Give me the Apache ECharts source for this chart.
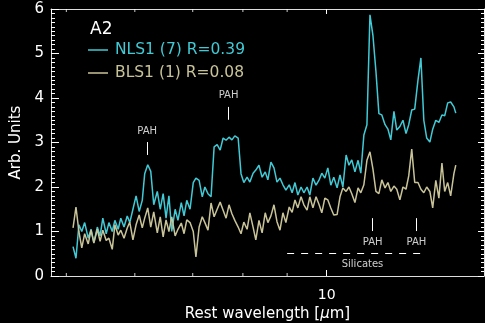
<!DOCTYPE html>
<html><head><meta charset="utf-8">
<script src="https://cdn.jsdelivr.net/npm/echarts@6/dist/echarts.min.js"></script>
<style>html,body{margin:0;padding:0;background:#000;}#c{width:485px;height:323px;}</style>
</head><body><div id="c"></div>
<script>
// Rest wavelength (micron)
const wavelength = [5.09,5.13,5.17,5.21,5.25,5.30,5.34,5.38,5.43,5.47,
5.51,5.56,5.60,5.65,5.69,5.74,5.78,5.83,5.88,5.92,
5.97,6.02,6.07,6.12,6.16,6.21,6.26,6.31,6.37,6.42,
6.47,6.52,6.57,6.62,6.68,6.73,6.79,6.84,6.89,6.95,
7.01,7.06,7.12,7.18,7.23,7.29,7.35,7.41,7.47,7.53,
7.59,7.65,7.71,7.77,7.83,7.90,7.96,8.02,8.09,8.15,
8.22,8.28,8.35,8.42,8.49,8.55,8.62,8.69,8.76,8.83,
8.90,8.97,9.05,9.12,9.19,9.26,9.34,9.41,9.49,9.56,
9.64,9.72,9.80,9.87,9.95,10.03,10.11,10.19,10.28,10.36,
10.44,10.53,10.61,10.69,10.78,10.87,10.95,11.04,11.13,11.22,
11.31,11.40,11.49,11.58,11.68,11.77,11.86,11.96,12.05,12.15,
12.25,12.35,12.44,12.54,12.64,12.75,12.85,12.95,13.05,13.16,
13.26,13.37,13.48,13.59,13.69,13.80,13.91,14.03,14.10];
// NLS1 (7) spectrum
const nls1 = [0.66,0.40,1.15,1.00,1.20,0.85,1.05,0.75,1.10,0.90,
1.30,0.95,1.20,1.00,1.25,1.05,1.30,1.10,1.35,1.20,
1.50,1.80,1.45,1.70,2.30,2.50,2.35,1.60,1.90,1.50,
1.85,1.30,1.80,1.00,1.50,1.25,1.65,1.35,1.70,1.50,
2.10,2.20,2.15,1.78,2.00,1.85,1.78,2.90,2.95,2.83,
3.10,3.05,3.12,3.06,3.15,3.10,2.30,2.10,2.22,2.11,
2.31,2.38,2.49,2.22,2.34,2.16,2.56,2.43,2.11,2.20,
2.05,1.93,2.05,1.87,2.10,1.82,2.00,1.87,2.00,1.82,
2.20,2.04,2.16,2.31,2.20,2.43,2.04,2.22,1.98,2.27,
2.00,2.72,2.49,2.61,2.34,2.60,2.31,3.17,3.40,5.87,
5.40,4.60,3.65,3.62,3.40,3.30,3.06,3.70,3.28,3.36,
3.50,3.20,3.40,3.73,3.75,4.40,4.90,3.50,3.10,3.01,
3.30,3.50,3.45,3.62,3.60,3.89,3.91,3.80,3.66];
// BLS1 (1) spectrum
const bls1 = [1.08,1.55,1.00,0.63,0.95,0.72,1.03,0.74,1.05,0.78,
1.03,0.80,0.85,0.60,1.15,0.92,1.03,0.85,1.08,1.21,
0.81,1.15,1.37,1.08,1.30,1.53,1.10,1.44,0.97,1.33,
0.88,1.26,1.00,1.33,0.90,1.05,1.19,0.95,1.26,1.20,
1.00,0.43,1.10,1.33,1.20,1.03,1.64,1.33,1.50,1.66,
1.48,1.30,1.60,1.40,1.25,1.10,0.95,1.21,1.05,1.42,
1.10,0.81,1.25,0.97,1.42,1.20,1.35,1.60,1.22,1.03,
1.42,1.20,1.55,1.43,1.71,1.53,1.78,1.60,1.48,1.78,
1.53,1.78,1.60,1.42,1.75,1.71,1.53,1.37,1.38,1.78,
1.98,1.90,2.00,1.85,1.65,1.98,1.87,2.05,2.60,2.79,
2.40,1.90,1.85,2.16,1.98,2.10,1.90,2.02,1.95,1.71,
2.00,1.95,2.25,2.85,2.10,2.10,1.95,1.87,2.00,1.90,
1.53,2.15,1.75,2.54,1.90,2.10,1.80,2.30,2.49];

const seriesNames = ['NLS1 (7) R=0.39', 'BLS1 (1) R=0.08'];
const xMin = 4.8, xMax = 15.2;
const yMin = 0, yMax = 6;
const xMinorTicks = [5, 6, 7, 8, 9];
// PAH markers: wavelength, bar bottom, bar top, label y
const pahWave = [6.2, 7.7, 11.3, 12.7];
const pahBarLow = [2.72, 3.51, 1.01, 1.01];
const pahBarHigh = [3.01, 3.80, 1.30, 1.30];
const pahLabelY = [3.26, 4.05, 0.76, 0.76];
// Silicates feature range
const silicRange = [9.0, 13.0];
const silicLineY = 0.51;
const silicLabel = [11.0, 0.25];

const CYAN = '#41cad5', KHAKI = '#c8c398', FONT = 'DejaVu Sans';
const zip = (a, b) => a.map((v, i) => [v, b[i]]);

const markLines = pahWave.map((w, i) => [
  {coord: [w, pahBarLow[i]]}, {coord: [w, pahBarHigh[i]]}
]);
markLines.push([{coord: [silicRange[0], silicLineY], lineStyle: {type: [7, 7]}},
                {coord: [silicRange[1], silicLineY]}]);

const labelData = pahWave.map((w, i) => [w, pahLabelY[i], 'PAH']);
labelData.push([silicLabel[0], silicLabel[1], 'Silicates']);

const tickData = xMinorTicks.map(v => [v, yMin]);
const tickTopData = xMinorTicks.map(v => [v, yMax]);

const chart = echarts.init(document.getElementById('c'), null, {renderer: 'canvas'});
chart.setOption({
  backgroundColor: '#000',
  animation: false,
  textStyle: {fontFamily: FONT},
  title: {text: 'A2', left: 85, top: 16, textStyle: {color: '#fff', fontSize: 17, fontWeight: 'normal', fontFamily: FONT}},
  legend: {
    orient: 'vertical', left: 83, top: 37, itemGap: 7,
    itemWidth: 20, itemHeight: 1.5, icon: 'rect',
    data: [
      {name: seriesNames[0], textStyle: {color: CYAN}},
      {name: seriesNames[1], textStyle: {color: KHAKI}}
    ],
    textStyle: {fontSize: 15.5, fontFamily: FONT, padding: [0, 0, 0, 2]}
  },
  grid: {left: 51, top: 9, right: 1, bottom: 47, containLabel: false, outerBoundsMode: 'none'},
  xAxis: [{
    type: 'log', logBase: 10, min: xMin, max: xMax, position: 'bottom',
    name: 'Rest wavelength [{i|μ}m]', nameLocation: 'middle', nameGap: 31,
    nameTextStyle: {color: '#fff', fontSize: 15, fontFamily: FONT, rich: {i: {fontStyle: 'italic', fontSize: 15, color: '#fff', fontFamily: FONT}}},
    axisLine: {onZero: false, lineStyle: {color: '#ddd', width: 1}},
    axisTick: {inside: true, length: 6, lineStyle: {color: '#fff'}},
    axisLabel: {color: '#fff', fontSize: 14, margin: 12, showMinLabel: false, showMaxLabel: false},
    splitLine: {show: false}
  }, {
    type: 'log', logBase: 10, min: xMin, max: xMax, position: 'top',
    axisLine: {onZero: false, lineStyle: {color: '#ddd', width: 1}},
    axisTick: {inside: true, length: 5, lineStyle: {color: '#fff'}},
    axisLabel: {show: false}, splitLine: {show: false}
  }],
  yAxis: [{
    type: 'value', min: yMin, max: yMax, interval: 1, position: 'left',
    name: 'Arb. Units', nameLocation: 'middle', nameGap: 22,
    nameTextStyle: {color: '#fff', fontSize: 15, fontFamily: FONT},
    axisLine: {show: true, onZero: false, lineStyle: {color: '#ddd', width: 1}},
    axisTick: {show: true, inside: true, length: 8, lineStyle: {color: '#fff'}},
    minorTick: {show: true, splitNumber: 10, length: 4, lineStyle: {color: '#fff', width: 1}},
    axisLabel: {color: '#fff', fontSize: 15, margin: 7},
    splitLine: {show: false}
  }, {
    type: 'value', min: yMin, max: yMax, interval: 1, position: 'right',
    axisLine: {show: true, onZero: false, lineStyle: {color: '#ddd', width: 1}},
    axisTick: {show: true, inside: true, length: 6, lineStyle: {color: '#fff'}},
    minorTick: {show: true, splitNumber: 10, length: 3, lineStyle: {color: '#fff', width: 1}},
    axisLabel: {show: false}, splitLine: {show: false}
  }],
  series: [
    {name: seriesNames[0], type: 'line', data: zip(wavelength, nls1), showSymbol: false, symbol: 'none',
     lineStyle: {color: CYAN, width: 1.5}, itemStyle: {color: CYAN}, z: 3},
    {name: seriesNames[1], type: 'line', data: zip(wavelength, bls1), showSymbol: false, symbol: 'none',
     lineStyle: {color: KHAKI, width: 1.5}, itemStyle: {color: KHAKI}, z: 4},
    {type: 'scatter', data: labelData, symbolSize: 0, silent: true, z: 5,
     label: {show: true, position: 'inside', formatter: p => p.value[2], color: '#fff', fontSize: 10, fontFamily: FONT},
     markLine: {silent: true, symbol: 'none', label: {show: false},
       lineStyle: {color: '#fff', width: 1, type: 'solid'}, data: markLines}},
    {type: 'scatter', data: tickData, symbol: 'rect', symbolSize: [1, 3], symbolOffset: [0, -1.5],
     itemStyle: {color: '#fff'}, silent: true, z: 6},
    {type: 'scatter', data: tickTopData, symbol: 'rect', symbolSize: [1, 3], symbolOffset: [0, 1.5],
     itemStyle: {color: '#fff'}, silent: true, z: 6}
  ]
});
</script></body></html>
